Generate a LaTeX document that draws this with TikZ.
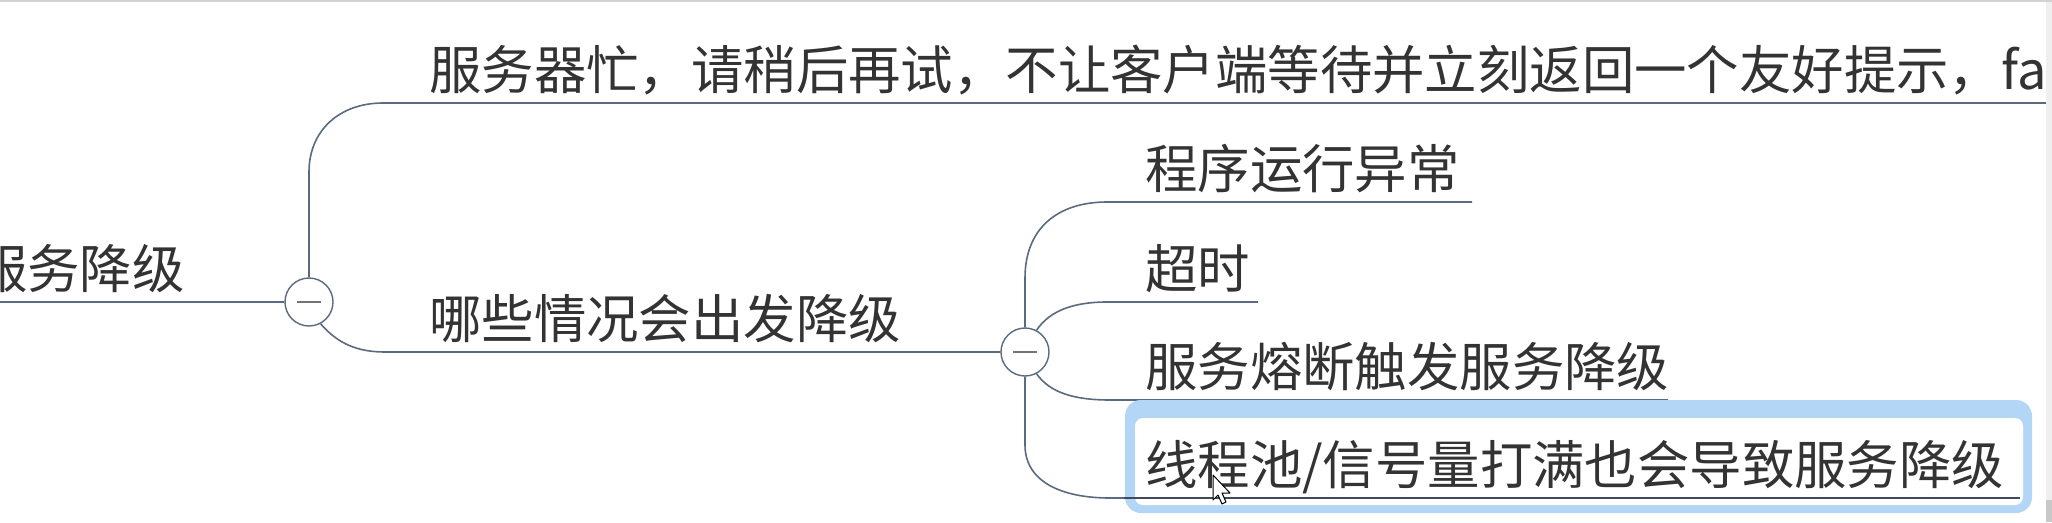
\documentclass[tikz,border=0pt]{standalone}
\usepackage{fontspec}
\newfontfamily\cjk{Noto Sans CJK SC}
\definecolor{linec}{HTML}{5A6A80}
\definecolor{txtc}{HTML}{333333}
\definecolor{selblue}{HTML}{B4D6F6}
\definecolor{scrollc}{HTML}{EFEFEF}
\definecolor{thumbc}{HTML}{C8C8C8}
\begin{document}
\begin{tikzpicture}[x=1pt,y=-1pt,
  conn/.style={draw=linec,line width=1.6pt},
  selline/.style={draw=linec!70!black,line width=2.2pt},
  ctl/.style={circle,draw=linec,line width=1.4pt,fill=white,minimum size=48pt,inner sep=0pt},
  minusbar/.style={draw=gray!90!black,line width=1.8pt},
  lbl/.style={anchor=base west,inner sep=0pt,text=txtc,font=\cjk\fontsize{52.4}{60}\selectfont},
  selbox/.style={fill=selblue,rounded corners=16pt},
  selinner/.style={fill=white,rounded corners=8pt},
]
\useasboundingbox (0,0) rectangle (2052,522);
\fill[white] (0,0) rectangle (2052,522);

% control circles
\node[ctl] (c1) at (309,302) {};
\node[ctl] (c2) at (1025,352) {};

% line end coordinates
\coordinate (r0) at (0,302);
\coordinate (e1) at (2047,103);
\coordinate (ek1) at (1472,202);
\coordinate (ek2) at (1258,302);
\coordinate (ek3) at (1668,400);
\coordinate (ek4) at (2020,498);

% connectors
\draw[conn] (r0) -- (c1.west);
\draw[conn] (c1.north) -- (309,172) .. controls (309,130) and (340,103) .. (383,103) -- (e1);
\draw[conn] (c1.-62) .. controls (338,344) and (358,352) .. (385,352) -- (c2.west);
\draw[conn] (c2.north) -- (1025,278) .. controls (1025,228) and (1058,202) .. (1107,202) -- (ek1);
\draw[conn] (c2.62) .. controls (1050,310) and (1075,302) .. (1107,302) -- (ek2);
\draw[conn] (c2.-62) .. controls (1050,393) and (1075,400) .. (1110,400) -- (ek3);
\draw[conn] (c2.south) -- (1025,445) .. controls (1025,482) and (1062,498) .. (1110,498) -- (1126,498);

% minus signs
\draw[minusbar] ([xshift=-12pt]c1.center) -- ([xshift=12pt]c1.center);
\draw[minusbar] ([xshift=-12pt]c2.center) -- ([xshift=12pt]c2.center);

% selection box
\fill[selbox] (1125,400) rectangle (2032,513);
\fill[selinner] (1135,418) rectangle (2023,505);
\draw[selline] (1124,498) -- (ek4);

% labels
\node[lbl] (root) at (-25,288) {服务降级};
\node[lbl] (b1) at (429,89) {服务器忙，请稍后再试，不让客户端等待并立刻返回一个友好提示，fa};
\node[lbl] (b2) at (429,338) {哪些情况会出发降级};
\node[lbl] (k1) at (1145,188) {程序运行异常};
\node[lbl] (k2) at (1145,288) {超时};
\node[lbl] (k3) at (1145,386) {服务熔断触发服务降级};
\node[lbl] (k4) at (1145,484) {线程池/信号量打满也会导致服务降级};

% mouse cursor
\draw[black,fill=white,line width=1pt,line join=round]
  (1213,475) -- ++(0,25) -- ++(5,-5) -- ++(4,9) -- ++(4,-2) -- ++(-4,-9) -- ++(8,0) -- cycle;

% window chrome: scrollbar strip and top edge
\fill[scrollc] (2046,0) rectangle (2052,522);
\fill[thumbc] (2046,500) rectangle (2052,522);
\fill[gray!35] (0,0) rectangle (2052,1.5);
\end{tikzpicture}
\end{document}
